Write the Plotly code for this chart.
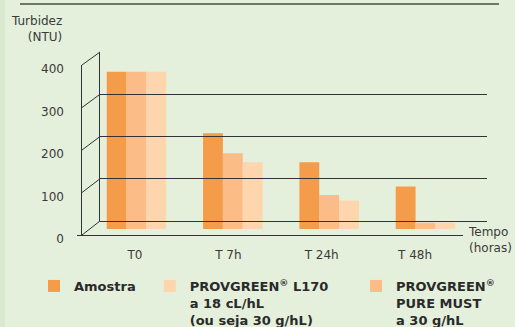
import plotly.graph_objects as go

W, H = 515, 327

categories = ["T0", "T 7h", "T 24h", "T 48h"]
amostra = [370, 225, 157, 100]
pure_must = [370, 178, 80, 15]
l170 = [370, 157, 67, 15]
y_ticks = [0, 100, 200, 300, 400]

NB = "\u00a0"
name_amostra = "Amostra" + NB * 2
name_l170 = "PROVGREEN<sup>®</sup> L170" + NB * 5 + "<br>a 18 cL/hL<br>(ou seja 30 g/hL)"
name_pure = "PROVGREEN<sup>®</sup><br>PURE MUST<br>a 30 g/hL"

C_ORANGE = "#f59c4a"
C_MID = "#fbbc87"
C_LIGHT = "#fdd6ae"
C_LINE = "#333333"
BG = "#e5f0dc"
FONT = "DejaVu Sans"


def fx(px):
    return px / W


def fy(py):
    return 1 - py / H


# pixel geometry of the pseudo-3D frame
BACK_X, BACK_X1, BACK_Y0, BACK_Y1 = 100, 487, 221, 52
FRONT_X, FRONT_X1, FRONT_Y0, FRONT_Y1 = 82, 463, 235, 65
YMAX = 400

fig = go.Figure()

fig.add_trace(go.Bar(x=categories, y=amostra, name=name_amostra, marker_color=C_ORANGE,
                     marker_line_width=0, legendrank=1, xaxis="x", yaxis="y"))
fig.add_trace(go.Bar(x=categories, y=pure_must, name=name_pure, marker_color=C_MID,
                     marker_line_width=0, legendrank=3, xaxis="x", yaxis="y"))
fig.add_trace(go.Bar(x=categories, y=l170, name=name_l170, marker_color=C_LIGHT,
                     marker_line_width=0, legendrank=2, xaxis="x", yaxis="y"))

# helper (invisible) traces so the frame axes render
fig.add_trace(go.Scatter(x=[0], y=[0], xaxis="x2", yaxis="y2", mode="markers",
                         marker=dict(opacity=0), showlegend=False, hoverinfo="skip"))
fig.add_trace(go.Scatter(x=categories, y=[0] * 4, xaxis="x3", yaxis="y3", mode="markers",
                         marker=dict(opacity=0), showlegend=False, hoverinfo="skip"))
fig.add_trace(go.Scatter(x=categories, y=[0] * 4, xaxis="x3", yaxis="y4", mode="markers",
                         marker=dict(opacity=0), showlegend=False, hoverinfo="skip"))

shapes = []
# left strip and top rule
shapes.append(dict(type="rect", xref="paper", yref="paper", x0=0, x1=fx(5), y0=0, y1=1,
                   fillcolor="#dbe8d0", line_width=0, layer="below"))
shapes.append(dict(type="line", xref="paper", yref="paper", x0=fx(20), x1=fx(499),
                   y0=fy(4), y1=fy(4), line=dict(color="#6b7868", width=2)))
# diagonals joining back wall to front axis at each tick value
for v in y_ticks:
    yb = fy(BACK_Y0) + v / YMAX * (fy(BACK_Y1) - fy(BACK_Y0))
    yf = fy(FRONT_Y0) + v / YMAX * (fy(FRONT_Y1) - fy(FRONT_Y0))
    shapes.append(dict(type="line", xref="paper", yref="paper", x0=fx(BACK_X), y0=yb,
                       x1=fx(FRONT_X), y1=yf, line=dict(color=C_LINE, width=1)))

annotations = [
    dict(text="Turbidez<br>(NTU)", xref="paper", yref="paper", x=fx(64), y=fy(29),
         xanchor="right", yanchor="middle", align="right", showarrow=False,
         font=dict(family=FONT, size=12, color="#3a3a3a")),
    dict(text="Tempo<br>(horas)", xref="paper", yref="paper", x=fx(466), y=fy(240),
         xanchor="left", yanchor="middle", align="left", showarrow=False,
         font=dict(family=FONT, size=12, color="#3a3a3a")),
]

fig.update_layout(
    width=W, height=H,
    margin=dict(l=0, r=0, t=0, b=0, autoexpand=False),
    paper_bgcolor=BG, plot_bgcolor="rgba(0,0,0,0)",
    barmode="group", bargap=0.382, bargroupgap=0,
    font=dict(family=FONT, color="#3a3a3a"),
    xaxis=dict(domain=[fx(FRONT_X), fx(FRONT_X1)], type="category",
               range=[-(136.5 - 82) / 96.33, 3 + (463 - 425.5) / 96.33],
               visible=False, anchor="y"),
    yaxis=dict(domain=[fy(229), fy(59)], range=[0, YMAX], visible=False, anchor="x"),
    xaxis2=dict(domain=[fx(BACK_X), fx(BACK_X1)], range=[0, 1], visible=False, anchor="y2"),
    yaxis2=dict(domain=[fy(BACK_Y0), fy(BACK_Y1)], range=[0, YMAX], tickvals=y_ticks,
                showgrid=True, gridcolor=C_LINE, gridwidth=1,
                zeroline=True, zerolinecolor=C_LINE, zerolinewidth=1,
                showline=True, linecolor=C_LINE, linewidth=1,
                showticklabels=False, ticks="", anchor="x2"),
    xaxis3=dict(domain=[fx(FRONT_X), fx(FRONT_X1)], type="category",
                range=[-(135 - 82) / 93.33, 3 + (463 - 415) / 93.33],
                showline=True, linecolor=C_LINE, linewidth=1.2, showgrid=False,
                ticks="", ticklabelstandoff=8,
                tickfont=dict(family=FONT, size=12, color="#3a3a3a"), anchor="y3"),
    yaxis3=dict(domain=[fy(FRONT_Y0), fy(FRONT_Y1)], range=[0, YMAX],
                showline=True, linecolor=C_LINE, linewidth=1.2, showgrid=False,
                zeroline=False, showticklabels=False, ticks="outside", tickvals=[0],
                ticklen=4, tickwidth=1.2, tickcolor=C_LINE, anchor="x3"),
    yaxis4=dict(domain=[fy(239), fy(69)], range=[0, YMAX], tickvals=y_ticks,
                showline=False, showgrid=False, zeroline=False, ticks="",
                ticklabelstandoff=17,
                tickfont=dict(family=FONT, size=12, color="#3a3a3a"), anchor="x3"),
    legend=dict(orientation="h", x=fx(34), y=fy(271), xanchor="left", yanchor="top",
                valign="top", bgcolor="rgba(0,0,0,0)",
                font=dict(family=FONT, size=13, color="#2a2a2a", weight="bold"),
                itemclick=False, itemdoubleclick=False),
    shapes=shapes,
    annotations=annotations,
    showlegend=True,
)

fig.write_html("out.html")
